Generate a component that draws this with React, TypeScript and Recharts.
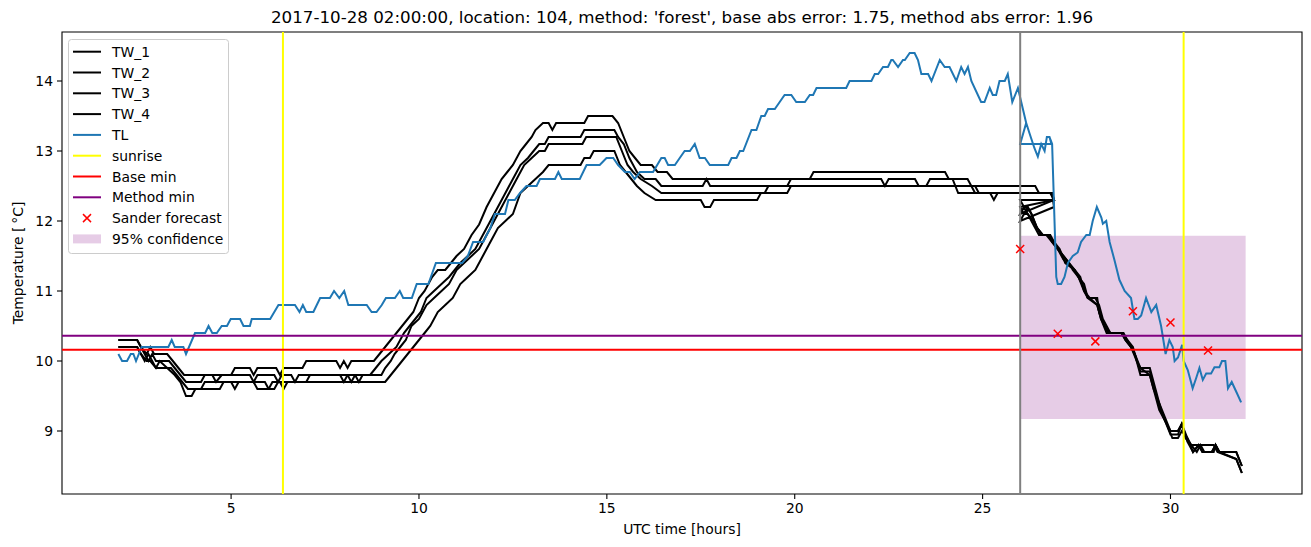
import React from 'react';
import { ComposedChart, Line, Scatter, XAxis, YAxis, ReferenceLine, ReferenceArea } from 'recharts';

type P = [number, number];

const TITLE = "2017-10-28 02:00:00, location: 104, method: 'forest', base abs error: 1.75, method abs error: 1.96";
const X_LABEL = 'UTC time [hours]';
const Y_LABEL = 'Temperature [\u2009\u00B0C]';
const X_TICKS = [5, 10, 15, 20, 25, 30];
const Y_TICKS = [9, 10, 11, 12, 13, 14];
const X_DOMAIN: [number, number] = [0.5, 33.5];
const Y_DOMAIN: [number, number] = [8.1, 14.7];
const SUNRISE = [6.38, 30.35];
const FORECAST_START = 26;
const BASE_MIN = 10.16;
const METHOD_MIN = 10.36;
const CONF_X = [26, 32];
const CONF_Y = [9.17, 11.79];

const SANDER: P[] = [[26, 11.6], [27, 10.39], [28, 10.28], [29, 10.71], [30, 10.55], [31, 10.15]];

const TL: P[] = [
  [2.0, 10.1], [2.1, 10.0], [2.23, 10.0], [2.33, 10.1], [2.4, 10.1], [2.47, 10.0], [2.62, 10.2], [3.33, 10.2], [3.42, 10.3], [3.5, 10.2],
  [3.73, 10.2], [3.8, 10.1], [4.04, 10.4], [4.31, 10.4], [4.4, 10.5], [4.5, 10.4], [4.62, 10.4], [4.75, 10.5], [4.89, 10.5], [4.99, 10.6],
  [5.24, 10.6], [5.33, 10.5], [5.5, 10.5], [5.55, 10.6], [6.04, 10.6], [6.26, 10.8], [6.7, 10.8], [6.82, 10.7], [6.91, 10.8], [7.0, 10.7],
  [7.19, 10.7], [7.28, 10.8], [7.37, 10.9], [7.63, 10.9], [7.74, 11.0], [7.88, 10.9], [8.01, 11.0], [8.12, 10.8], [8.61, 10.8], [8.74, 10.7],
  [8.87, 10.7], [9.01, 10.8], [9.12, 10.9], [9.36, 10.9], [9.49, 11.0], [9.58, 10.9], [9.81, 10.9], [9.94, 11.1], [10.25, 11.1], [10.45, 11.4],
  [11.15, 11.4], [11.3, 11.5], [11.44, 11.7], [11.71, 11.7], [11.8, 11.8], [11.9, 11.9], [12.02, 12.1], [12.29, 12.1], [12.38, 12.3], [12.55, 12.3],
  [12.69, 12.4], [12.86, 12.5], [13.13, 12.5], [13.22, 12.6], [13.62, 12.6], [13.71, 12.7], [13.8, 12.6], [14.28, 12.6], [14.46, 12.8], [14.81, 12.8],
  [14.99, 12.9], [15.17, 12.9], [15.3, 12.8], [15.48, 12.7], [15.61, 12.7], [15.74, 12.6], [15.88, 12.7], [16.23, 12.7], [16.45, 12.9], [16.54, 12.9],
  [16.63, 12.8], [16.81, 12.8], [16.94, 12.9], [17.07, 13.0], [17.21, 13.0], [17.34, 13.1], [17.47, 12.9], [17.61, 12.9], [17.74, 12.8], [18.23, 12.8],
  [18.32, 12.9], [18.45, 12.9], [18.54, 13.0], [18.63, 13.0], [18.85, 13.3], [18.98, 13.3], [19.11, 13.5], [19.2, 13.5], [19.29, 13.6], [19.47, 13.6],
  [19.6, 13.7], [19.73, 13.8], [19.91, 13.8], [20.04, 13.7], [20.27, 13.7], [20.4, 13.8], [20.49, 13.8], [20.58, 13.9], [21.37, 13.9], [21.46, 14.0],
  [22.04, 14.0], [22.13, 14.1], [22.22, 14.1], [22.35, 14.2], [22.48, 14.2], [22.57, 14.3], [22.61, 14.3], [22.75, 14.2], [22.88, 14.3], [22.93, 14.3],
  [23.06, 14.4], [23.19, 14.4], [23.28, 14.3], [23.37, 14.1], [23.55, 14.1], [23.64, 14.0], [23.86, 14.3], [23.99, 14.2], [24.12, 14.2], [24.3, 14.0],
  [24.43, 14.2], [24.52, 14.1], [24.61, 14.2], [24.7, 14.0], [24.96, 13.7], [25.05, 13.7], [25.19, 13.9], [25.27, 13.8], [25.36, 13.8], [25.45, 14.0],
  [25.59, 14.0], [25.67, 14.1], [25.79, 13.7], [25.94, 13.9], [26.16, 13.4], [26.25, 13.25], [26.38, 13.04], [26.47, 12.92], [26.56, 13.1], [26.65, 13.0],
  [26.71, 13.2], [26.78, 13.2], [26.83, 13.1],
  [26.0, 13.1], [26.16, 13.4], [26.25, 13.25], [26.38, 13.04], [26.47, 12.92], [26.56, 13.1], [26.65, 13.0], [26.71, 13.2], [26.78, 13.2], [26.85, 13.1],
  [26.96, 11.2], [27.0, 11.1], [27.09, 11.1], [27.18, 11.2], [27.27, 11.4], [27.4, 11.5], [27.53, 11.55], [27.62, 11.7], [27.76, 11.8], [27.85, 11.8],
  [27.93, 12.0], [28.04, 12.2], [28.16, 12.05], [28.2, 11.96], [28.29, 12.0], [28.38, 11.7], [28.51, 11.44], [28.64, 11.16], [28.78, 11.0], [28.95, 10.9],
  [29.04, 10.6], [29.13, 10.6], [29.22, 10.65], [29.35, 10.9], [29.49, 10.7], [29.62, 10.8], [29.75, 10.5], [29.87, 10.1], [29.97, 10.3], [30.06, 10.2],
  [30.11, 10.0], [30.2, 10.05], [30.31, 10.23], [30.35, 10.0], [30.46, 9.87], [30.59, 9.61], [30.68, 9.75], [30.77, 9.9], [30.86, 9.73], [30.95, 9.82],
  [31.08, 9.82], [31.17, 9.91], [31.3, 9.91], [31.37, 10.0], [31.46, 10.0], [31.53, 9.61], [31.63, 9.7], [31.76, 9.55], [31.88, 9.41],
];

const TW_1: P[] = [
  [2.0, 10.3], [2.5, 10.3], [2.6, 10.2], [2.75, 10.1], [2.85, 10.2], [2.95, 10.1], [3.3, 10.1], [3.45, 10.0], [3.6, 9.9], [3.75, 9.8],
  [5.0, 9.8], [5.1, 9.9], [5.5, 9.9], [5.6, 9.8], [5.7, 9.9], [6.2, 9.9], [6.3, 9.8], [6.4, 9.9], [6.9, 9.9], [7.0, 10.0],
  [7.8, 10.0], [7.9, 9.9], [8.0, 10.0], [8.1, 9.9], [8.2, 10.0], [8.8, 10.0], [8.95, 10.1], [9.1, 10.2], [9.25, 10.3], [9.4, 10.4],
  [9.55, 10.5], [9.7, 10.6], [9.85, 10.7], [10.0, 10.9], [10.15, 11.0], [10.35, 11.2], [10.5, 11.3], [10.7, 11.3], [10.85, 11.4], [11.0, 11.5],
  [11.2, 11.6], [11.4, 11.8], [11.6, 11.95], [11.8, 12.2], [12.0, 12.4], [12.2, 12.6], [12.35, 12.7], [12.5, 12.8], [12.7, 13.0], [12.85, 13.1],
  [13.0, 13.2], [13.1, 13.3], [13.3, 13.4], [13.45, 13.4], [13.55, 13.3], [13.65, 13.4], [14.4, 13.4], [14.5, 13.5], [15.15, 13.5], [15.3, 13.4],
  [15.45, 13.2], [15.6, 13.0], [15.75, 12.9], [15.9, 12.8], [16.2, 12.8], [16.35, 12.7], [16.6, 12.7], [16.75, 12.6], [20.4, 12.6], [20.5, 12.7],
  [24.0, 12.7], [24.1, 12.6], [24.6, 12.6], [24.7, 12.5], [26.4, 12.5], [26.5, 12.4], [26.8, 12.4], [26.9, 12.3],
  [26.0, 12.3], [26.1, 12.2], [26.2, 12.2], [26.3, 12.1], [26.45, 11.9], [26.6, 11.8], [26.75, 11.8], [26.85, 11.7], [27.0, 11.6], [27.15, 11.45],
  [27.25, 11.4], [27.45, 11.3], [27.55, 11.2], [27.7, 11.0], [27.8, 10.9], [28.05, 10.8], [28.15, 10.6], [28.3, 10.45], [28.4, 10.4], [28.7, 10.4],
  [28.8, 10.3], [28.95, 10.2], [29.05, 10.1], [29.2, 9.85], [29.3, 9.85], [29.45, 9.85], [29.55, 9.65], [29.7, 9.35], [29.85, 9.15], [30.0, 8.95],
  [30.2, 8.95], [30.3, 9.1], [30.45, 8.85], [30.6, 8.7], [30.75, 8.8], [30.85, 8.7], [31.1, 8.7], [31.2, 8.8], [31.3, 8.7], [31.75, 8.7], [31.9, 8.5],
];

const TW_2: P[] = [
  [2.0, 10.3], [2.5, 10.3], [2.6, 10.2], [2.7, 10.1], [2.8, 10.0], [2.9, 10.1], [3.0, 10.0], [3.35, 10.0], [3.5, 9.9], [3.65, 9.8],
  [3.8, 9.7], [4.2, 9.7], [4.3, 9.8], [4.5, 9.8], [4.6, 9.7], [4.75, 9.8], [5.5, 9.8], [5.6, 9.7], [5.7, 9.8], [6.15, 9.8],
  [6.25, 9.7], [6.35, 9.8], [6.6, 9.8], [6.7, 9.7], [6.8, 9.8], [7.9, 9.8], [8.0, 9.7], [8.1, 9.8], [8.3, 9.8], [8.4, 9.7],
  [8.5, 9.8], [8.7, 9.8], [8.85, 9.9], [9.0, 10.0], [9.2, 10.1], [9.4, 10.2], [9.6, 10.4], [9.75, 10.5], [9.9, 10.6], [10.05, 10.7],
  [10.2, 10.9], [10.4, 11.0], [10.6, 11.1], [10.8, 11.2], [10.95, 11.3], [11.1, 11.4], [11.3, 11.5], [11.5, 11.6], [11.7, 11.8], [11.9, 12.0],
  [12.1, 12.2], [12.3, 12.4], [12.5, 12.6], [12.7, 12.8], [12.9, 12.9], [13.05, 13.0], [13.2, 13.1], [13.35, 13.1], [13.45, 13.2], [14.3, 13.2],
  [14.4, 13.3], [15.2, 13.3], [15.3, 13.2], [15.45, 13.1], [15.6, 12.9], [15.8, 12.7], [16.0, 12.6], [16.3, 12.6], [16.45, 12.5], [17.55, 12.5],
  [17.65, 12.6], [17.75, 12.5], [19.8, 12.5], [19.9, 12.6], [22.3, 12.6], [22.4, 12.5], [22.5, 12.6], [23.2, 12.6], [23.3, 12.5], [23.5, 12.5],
  [23.6, 12.6], [24.2, 12.6], [24.35, 12.4], [26.85, 12.4], [26.9, 12.3],
  [26.0, 12.2], [26.1, 12.1], [26.2, 12.2], [26.3, 12.1], [26.45, 11.9], [26.6, 11.8], [26.75, 11.8], [26.9, 11.7], [27.0, 11.6], [27.15, 11.5],
  [27.3, 11.4], [27.45, 11.3], [27.6, 11.2], [27.7, 11.0], [27.85, 10.9], [28.05, 10.8], [28.15, 10.6], [28.3, 10.4], [28.7, 10.4], [28.85, 10.3],
  [28.95, 10.2], [29.05, 10.1], [29.2, 9.9], [29.45, 9.8], [29.55, 9.6], [29.7, 9.3], [29.9, 9.1], [30.0, 9.0], [30.2, 9.0], [30.3, 9.1],
  [30.45, 8.9], [30.6, 8.7], [30.75, 8.8], [30.85, 8.7], [31.1, 8.7], [31.2, 8.8], [31.3, 8.7], [31.75, 8.7], [31.9, 8.5],
];

const TW_3: P[] = [
  [2.0, 10.2], [2.5, 10.2], [2.6, 10.1], [2.7, 10.0], [2.8, 10.1], [2.9, 10.0], [3.0, 9.9], [3.4, 9.9], [3.55, 9.8], [3.7, 9.7],
  [3.85, 9.6], [4.2, 9.6], [4.3, 9.7], [5.0, 9.7], [5.1, 9.6], [5.2, 9.7], [5.9, 9.7], [6.0, 9.6], [6.15, 9.6], [6.25, 9.7],
  [7.0, 9.7], [7.1, 9.8], [8.0, 9.8], [8.1, 9.8], [8.2, 9.7], [8.3, 9.8], [9.0, 9.8], [9.1, 9.9], [9.25, 10.0], [9.35, 10.1],
  [9.5, 10.2], [9.65, 10.3], [9.8, 10.5], [10.0, 10.6], [10.2, 10.8], [10.4, 10.9], [10.6, 11.0], [10.8, 11.1], [11.0, 11.3], [11.2, 11.4],
  [11.4, 11.5], [11.6, 11.6], [11.8, 11.8], [12.0, 12.0], [12.2, 12.2], [12.4, 12.4], [12.6, 12.6], [12.8, 12.8], [13.0, 12.9], [13.2, 13.0],
  [13.35, 13.0], [13.45, 13.1], [14.35, 13.1], [14.45, 13.2], [15.25, 13.2], [15.4, 13.0], [15.55, 12.8], [15.7, 12.7], [15.9, 12.6], [16.2, 12.5],
  [16.45, 12.4], [19.2, 12.4], [19.3, 12.5], [24.7, 12.5], [24.8, 12.4], [26.85, 12.4], [26.9, 12.3],
  [26.0, 12.1], [26.1, 12.2], [26.2, 12.1], [26.35, 12.0], [26.45, 11.9], [26.55, 11.8], [26.8, 11.8], [26.9, 11.7], [27.05, 11.6], [27.2, 11.4],
  [27.45, 11.3], [27.55, 11.2], [27.7, 11.1], [27.8, 10.9], [28.05, 10.9], [28.1, 10.7], [28.25, 10.5], [28.35, 10.4], [28.75, 10.4], [28.85, 10.3],
  [29.0, 10.2], [29.1, 10.0], [29.2, 9.9], [29.45, 9.9], [29.55, 9.7], [29.75, 9.3], [29.9, 9.1], [30.05, 8.9], [30.2, 8.9], [30.3, 9.0],
  [30.45, 8.9], [30.55, 8.8], [30.75, 8.8], [30.85, 8.8], [31.15, 8.8], [31.25, 8.7], [31.75, 8.6], [31.9, 8.4],
];

const TW_4: P[] = [
  [2.0, 10.2], [2.5, 10.2], [2.6, 10.1], [2.75, 10.0], [2.85, 10.0], [3.0, 9.9], [3.1, 10.0], [3.3, 9.9], [3.5, 9.8], [3.65, 9.7],
  [3.8, 9.5], [3.95, 9.5], [4.05, 9.6], [4.7, 9.6], [4.8, 9.7], [5.6, 9.7], [5.7, 9.6], [6.0, 9.6], [6.1, 9.7], [6.3, 9.7],
  [6.4, 9.6], [6.5, 9.7], [8.8, 9.7], [9.1, 9.7], [9.25, 9.8], [9.4, 9.9], [9.55, 10.0], [9.7, 10.1], [9.85, 10.2], [10.0, 10.3],
  [10.15, 10.4], [10.3, 10.5], [10.5, 10.7], [10.7, 10.8], [10.9, 10.9], [11.1, 11.1], [11.3, 11.2], [11.5, 11.3], [11.7, 11.5], [11.9, 11.7],
  [12.1, 11.9], [12.3, 12.0], [12.5, 12.1], [12.7, 12.4], [12.9, 12.5], [13.1, 12.6], [13.3, 12.7], [13.45, 12.8], [14.3, 12.8], [14.4, 12.9],
  [14.55, 12.9], [14.65, 13.0], [15.2, 13.0], [15.35, 12.8], [15.5, 12.7], [15.65, 12.6], [15.8, 12.5], [16.0, 12.4], [16.3, 12.3], [17.5, 12.3],
  [17.6, 12.2], [17.75, 12.2], [17.85, 12.3], [19.0, 12.3], [19.1, 12.4], [19.8, 12.4], [19.9, 12.5], [24.8, 12.5], [24.9, 12.4], [25.2, 12.4],
  [25.3, 12.3], [25.4, 12.4], [26.85, 12.4], [26.9, 12.2],
  [26.0, 12.0], [26.1, 12.1], [26.2, 12.1], [26.3, 12.0], [26.4, 11.9], [26.5, 11.8], [26.7, 11.8], [26.85, 11.7], [27.0, 11.6], [27.15, 11.5],
  [27.3, 11.4], [27.4, 11.3], [27.55, 11.2], [27.65, 11.1], [27.8, 10.9], [28.0, 10.9], [28.1, 10.8], [28.2, 10.6], [28.3, 10.5], [28.4, 10.4],
  [28.7, 10.4], [28.8, 10.3], [28.95, 10.2], [29.1, 10.0], [29.2, 9.8], [29.45, 9.8], [29.55, 9.6], [29.7, 9.4], [29.85, 9.2], [30.0, 9.0],
  [30.2, 9.0], [30.3, 9.1], [30.4, 8.9], [30.55, 8.8], [30.7, 8.7], [30.8, 8.8], [30.9, 8.7], [31.15, 8.7], [31.2, 8.8], [31.3, 8.7],
  [31.75, 8.6], [31.9, 8.4],
];

const toData = (pts: P[]) => pts.map(([t, v]) => ({ t, v }));

const W = 1311;
const H = 547;
const FONT = 'DejaVu Sans';
const TL_COLOR = '#1f77b4';
const LW = 2;

const BLACK_SERIES: { name: string; pts: P[] }[] = [
  { name: 'TW_1', pts: TW_1 },
  { name: 'TW_2', pts: TW_2 },
  { name: 'TW_3', pts: TW_3 },
  { name: 'TW_4', pts: TW_4 },
];

const XMark = (props: any) => {
  const { cx, cy } = props;
  if (cx == null || cy == null) return null;
  const r = 4;
  return (
    <g>
      <line x1={cx - r} y1={cy - r} x2={cx + r} y2={cy + r} stroke="red" strokeWidth={1.5} />
      <line x1={cx - r} y1={cy + r} x2={cx + r} y2={cy - r} stroke="red" strokeWidth={1.5} />
    </g>
  );
};

type LegendItem = { label: string; kind: 'line' | 'x' | 'patch'; color: string };
const LEGEND: LegendItem[] = [
  { label: 'TW_1', kind: 'line', color: '#000' },
  { label: 'TW_2', kind: 'line', color: '#000' },
  { label: 'TW_3', kind: 'line', color: '#000' },
  { label: 'TW_4', kind: 'line', color: '#000' },
  { label: 'TL', kind: 'line', color: TL_COLOR },
  { label: 'sunrise', kind: 'line', color: 'yellow' },
  { label: 'Base min', kind: 'line', color: 'red' },
  { label: 'Method min', kind: 'line', color: 'purple' },
  { label: 'Sander forecast', kind: 'x', color: 'red' },
  { label: '95% confidence', kind: 'patch', color: 'purple' },
];

const tickStyle = { fill: '#000', fontSize: 13.9, fontFamily: FONT };

export default function App() {
  const lx = 68;
  const ly = 39;
  const rowH = 20.8;
  return (
    <div style={{ position: 'absolute', left: 0, top: 0, width: W, height: H, background: '#fff' }}>
      <ComposedChart width={W} height={H} margin={{ top: 32, right: 9, bottom: 0, left: 0 }}>
        <XAxis
          type="number"
          dataKey="t"
          domain={X_DOMAIN}
          ticks={X_TICKS}
          allowDataOverflow
          height={53}
          axisLine={false}
          tickLine={{ stroke: '#000', strokeWidth: 1.1 }}
          tickSize={5}
          tickMargin={4}
          tick={tickStyle}
        />
        <YAxis
          type="number"
          dataKey="v"
          domain={Y_DOMAIN}
          ticks={Y_TICKS}
          allowDataOverflow
          width={62}
          axisLine={false}
          tickLine={{ stroke: '#000', strokeWidth: 1.1 }}
          tickSize={5}
          tickMargin={4}
          tick={tickStyle}
        />
        <ReferenceArea
          x1={CONF_X[0]}
          x2={CONF_X[1]}
          y1={CONF_Y[0]}
          y2={CONF_Y[1]}
          fill="purple"
          fillOpacity={0.2}
          stroke="none"
        />
        {BLACK_SERIES.map((s) => (
          <Line
            key={s.name}
            data={toData(s.pts)}
            dataKey="v"
            name={s.name}
            stroke="#000"
            strokeWidth={LW}
            dot={false}
            activeDot={false}
            isAnimationActive={false}
            type="linear"
          />
        ))}
        <Line
          data={toData(TL)}
          dataKey="v"
          name="TL"
          stroke={TL_COLOR}
          strokeWidth={LW}
          dot={false}
          activeDot={false}
          isAnimationActive={false}
          type="linear"
        />
        {SUNRISE.map((x) => (
          <ReferenceLine key={x} x={x} stroke="yellow" strokeWidth={LW} />
        ))}
        <ReferenceLine y={BASE_MIN} stroke="red" strokeWidth={LW} />
        <ReferenceLine y={METHOD_MIN} stroke="purple" strokeWidth={LW} />
        <ReferenceLine x={FORECAST_START} stroke="grey" strokeWidth={LW} />
        <Scatter data={toData(SANDER)} dataKey="v" name="Sander forecast" shape={XMark} isAnimationActive={false} />
        <ReferenceArea
          x1={X_DOMAIN[0]}
          x2={X_DOMAIN[1]}
          y1={Y_DOMAIN[0]}
          y2={Y_DOMAIN[1]}
          fill="none"
          stroke="#000"
          strokeWidth={1.1}
        />
      </ComposedChart>
      <svg
        width={W}
        height={H}
        style={{ position: 'absolute', left: 0, top: 0, pointerEvents: 'none' }}
        fontFamily={FONT}
      >
        <text x={682} y={17} textAnchor="middle" dominantBaseline="central" fontSize={16.7} fill="#000">
          {TITLE}
        </text>
        <text x={682} y={529} textAnchor="middle" dominantBaseline="central" fontSize={13.9} fill="#000">
          {X_LABEL}
        </text>
        <text
          x={18}
          y={263}
          textAnchor="middle"
          dominantBaseline="central"
          fontSize={13.9}
          fill="#000"
          transform="rotate(-90 18 263)"
        >
          {Y_LABEL}
        </text>
        <rect x={lx + 0.5} y={ly + 0.5} width={160} height={214} rx={3} fill="#fff" fillOpacity={0.8} stroke="#cccccc" />
        {LEGEND.map((it, i) => {
          const cy = ly + 12.7 + i * rowH;
          let handle: React.ReactNode = null;
          if (it.kind === 'line') {
            handle = <line x1={73} x2={101} y1={cy} y2={cy} stroke={it.color} strokeWidth={LW} />;
          } else if (it.kind === 'x') {
            handle = (
              <g>
                <line x1={83} y1={cy - 4} x2={91} y2={cy + 4} stroke="red" strokeWidth={1.5} />
                <line x1={83} y1={cy + 4} x2={91} y2={cy - 4} stroke="red" strokeWidth={1.5} />
              </g>
            );
          } else {
            handle = <rect x={73} y={cy - 4.5} width={28} height={9} fill={it.color} fillOpacity={0.2} />;
          }
          return (
            <g key={it.label}>
              {handle}
              <text x={112} y={cy} dominantBaseline="central" fontSize={13.9} fill="#000">
                {it.label}
              </text>
            </g>
          );
        })}
      </svg>
    </div>
  );
}
